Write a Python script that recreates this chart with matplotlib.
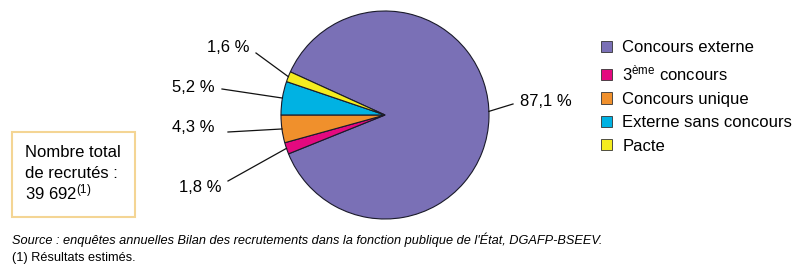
import numpy as np
import matplotlib
matplotlib.use('Agg')
import matplotlib.pyplot as plt
from matplotlib.patches import Rectangle

plt.rcParams['font.family'] = ['Liberation Sans', 'DejaVu Sans']
plt.rcParams['mathtext.fontset'] = 'custom'
plt.rcParams['mathtext.rm'] = 'Liberation Sans'
plt.rcParams['mathtext.it'] = 'Liberation Sans:italic'

# Data
categories = ['Concours externe', '3$^{\\mathrm{ème}}$ concours', 'Concours unique',
              'Externe sans concours', 'Pacte']
shares = [87.1, 1.8, 4.3, 5.2, 1.6]
share_labels = ['87,1 %', '1,8 %', '4,3 %', '5,2 %', '1,6 %']
colors = ['#7a70b6', '#e4097f', '#f0902c', '#00b2e3', '#f4ec1f']
total_lines = ['Nombre total', 'de recrutés :', '39 692$^{(1)}$']
source_text = "Source : enquêtes annuelles Bilan des recrutements dans la fonction publique de l'État, DGAFP-BSEEV."
note_text = '(1) Résultats estimés.'

W, H = 800, 268
fig = plt.figure(figsize=(W / 100, H / 100), dpi=100)
ax = fig.add_axes([0, 0, 1, 1])
ax.set_xlim(0, W)
ax.set_ylim(0, H)
ax.set_aspect('equal')
ax.axis('off')

cx, cy, r = 385, H - 115, 104
wedges, _ = ax.pie(shares, colors=colors, startangle=155.5, counterclock=False,
                   center=(cx, cy), radius=r,
                   wedgeprops=dict(edgecolor='#1a1a2a', linewidth=0.8))
ax.set_xlim(0, W)
ax.set_ylim(0, H)

# label text positions (pixel coords, y from top) and leader line outer end
text_pos = [(546, 102), (200, 187), (193, 128), (193, 88), (228, 47)]
line_out = [(513, 104), (228, 181), (228, 132), (222, 89), (256, 53)]
line_ang = [2.0, None, None, None, None]

for w, lab, tp, lo, ang in zip(wedges, share_labels, text_pos, line_out, line_ang):
    if ang is None:
        ang = (w.theta1 + w.theta2) / 2
    a = np.deg2rad(ang)
    px, py = cx + r * np.cos(a), cy + r * np.sin(a)
    ax.plot([lo[0], px], [H - lo[1], py], color='#111111', lw=0.9)
    ax.text(tp[0], H - tp[1], lab, fontsize=12, ha='center', va='center')

leg = ax.legend(wedges, categories, loc='upper left', bbox_to_anchor=(593 / W, 1 - 32 / H),
                frameon=False, fontsize=12, handlelength=0.65, handleheight=0.65,
                handletextpad=0.6, labelspacing=0.5, borderpad=0)
for h in leg.legend_handles:
    h.set_edgecolor('#333333')
    h.set_linewidth(0.6)

ax.add_patch(Rectangle((12, H - 217), 123, 85, fill=False, edgecolor='#f4d594', lw=1.5))
for i, line in enumerate(total_lines):
    ax.text(25, H - (157 + 21 * i), line, fontsize=12, ha='left', va='baseline')

ax.text(12, H - 240, source_text, fontsize=9.2, style='italic', ha='left', va='center')
ax.text(12, H - 258, note_text, fontsize=9.2, ha='left', va='center')

fig.savefig('out.png', dpi=100)
